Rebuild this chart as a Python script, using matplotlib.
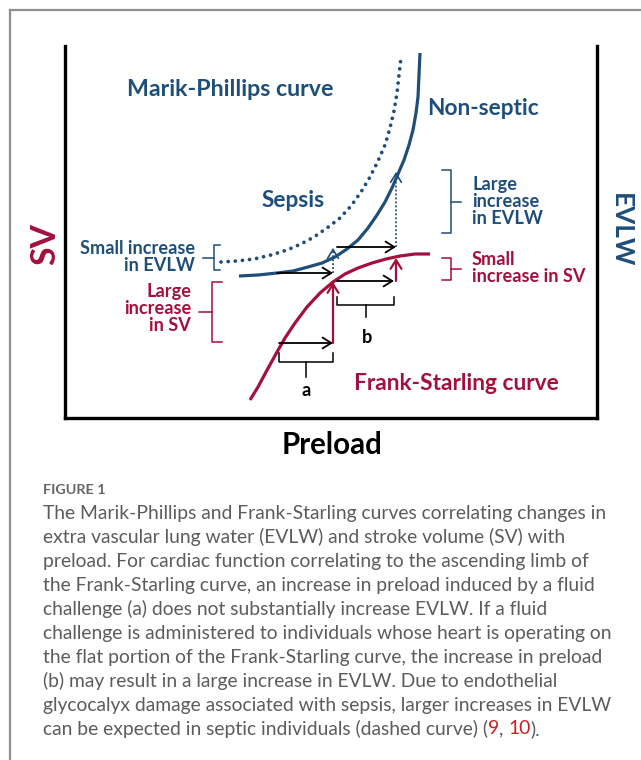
import matplotlib
matplotlib.use('Agg')
import matplotlib.pyplot as plt
from matplotlib.lines import Line2D

W, H = 641, 760
BLUE = '#1f4e79'
RED = '#a3103e'
CAP = '#5c5c5c'
FONT = 'Lato'

# ---- curve data (diagram units: x = preload, y = SV / EVLW) ----
nonseptic_x = [174, 193, 212, 228, 243, 257, 270, 282, 293, 303, 312, 320, 327, 333, 339, 344, 348, 351, 353, 354, 355]
nonseptic_y = [142, 143, 145, 147, 151, 155, 161, 169, 178, 190, 203, 216, 230, 244, 258, 273, 288, 305, 321, 343, 365]
sepsis_x = [156, 172, 189, 206, 222, 236, 249, 262, 275, 286, 296, 305, 313, 320, 325, 329, 332, 334, 336]
sepsis_y = [156, 157, 159, 163, 168, 174, 181, 190, 200, 212, 226, 241, 257, 273, 290, 307, 325, 343, 360]
starling_x = [185, 193, 201, 212, 220, 230, 242, 255, 268, 280, 293, 307, 321, 335, 350, 365]
starling_y = [18, 31, 46, 66, 80, 95, 111, 125, 136, 144, 150, 155, 159, 162, 164, 164]

# fluid challenges: horizontal (preload) arrows  (x_start, x_end, y)
preload_arrows = [(214, 268, 75), (212, 268, 145), (272, 331, 171), (272, 329, 137)]
# SV responses (x, y_start, y_end)
sv_arrows = [(268, 75, 136), (331, 137, 160)]
# EVLW responses (x, y_start, y_end)
evlw_arrows = [(268, 145, 170), (331, 171, 246)]

fig = plt.figure(figsize=(W / 100, H / 100), dpi=100)
fig.patch.set_facecolor('white')

# card border (top and left)
fig.add_artist(Line2D([10 / W, 1], [1 - 10 / H, 1 - 10 / H], color='#8f8f8f', lw=1.6))
fig.add_artist(Line2D([10 / W, 10 / W], [0, 1 - 10 / H], color='#8f8f8f', lw=1.6))

ax = fig.add_axes([65 / W, 1 - 418 / H, (597 - 65) / W, (418 - 46) / H])
ax.set_xlim(0, 532)
ax.set_ylim(0, 372)
ax.set_xticks([])
ax.set_yticks([])
ax.patch.set_alpha(0)
for s in ['left', 'bottom', 'right']:
    ax.spines[s].set_linewidth(2.4)
    ax.spines[s].set_color('black')
    ax.spines[s].set_capstyle('projecting')
ax.spines['top'].set_visible(False)

ax.plot(nonseptic_x, nonseptic_y, color=BLUE, lw=2.3, solid_capstyle='butt')
ax.plot(sepsis_x, sepsis_y, color=BLUE, lw=2.7, linestyle=(0, (0.01, 1.9)), dash_capstyle='round')
ax.plot(starling_x, starling_y, color=RED, lw=2.3, solid_capstyle='butt')

AST = '->,head_length=0.45,head_width=0.28'
for x0, x1, y in preload_arrows:
    ax.annotate('', xy=(x1, y), xytext=(x0, y),
                arrowprops=dict(arrowstyle=AST, color='black', lw=1.3, mutation_scale=14,
                                shrinkA=0, shrinkB=0))
for x, y0, y1 in sv_arrows:
    ax.annotate('', xy=(x, y1), xytext=(x, y0),
                arrowprops=dict(arrowstyle=AST, color=RED, lw=1.6, mutation_scale=14,
                                shrinkA=0, shrinkB=0))
for x, y0, y1 in evlw_arrows:
    ax.plot([x, x], [y0, y1 - 2], color=BLUE, lw=1.3, linestyle=(0, (1, 1.2)))
    ax.annotate('', xy=(x, y1), xytext=(x, y1 - 3),
                arrowprops=dict(arrowstyle=AST, color=BLUE, lw=1.2, mutation_scale=14,
                                shrinkA=0, shrinkB=0))

# brackets
def vbracket(x, y0, y1, end, tick, color):
    ym = (y0 + y1) / 2
    ax.plot([x + end, x, x, x + end], [y1, y1, y0, y0], color=color, lw=1.1,
            solid_joinstyle='round')
    ax.plot([x - tick, x], [ym, ym], color=color, lw=1.1)

def hbracket(x0, x1, ytop, ybot, tick, color):
    xm = (x0 + x1) / 2
    ax.plot([x0, x0, x1, x1], [ytop, ybot, ybot, ytop], color=color, lw=1.1)
    ax.plot([xm, xm], [ybot, ybot - tick], color=color, lw=1.1)

vbracket(149, 148, 173, 6, 11, BLUE)
vbracket(147, 76, 136, 10, 13, RED)
vbracket(386, 185, 248, -9, -10, BLUE)
vbracket(386, 138, 160, -9, -10, RED)
hbracket(214, 268, 65, 56, 15, 'black')
hbracket(272, 329, 121, 113, 12, 'black')

renderer = fig.canvas.get_renderer()

def fit(t, target, vertical=False):
    bb = t.get_window_extent(renderer)
    cur = bb.height if vertical else bb.width
    t.set_fontsize(t.get_fontsize() * target / cur)
    return t

def lab(x, y, s, color, size, target=None, **kw):
    t = ax.text(x, y, s, color=color, fontsize=size, fontfamily=FONT, fontweight='bold',
                clip_on=False, **kw)
    if target:
        fit(t, target)
    return t

lab(62, 329, 'Marik-Phillips curve', BLUE, 14, 208, ha='left', va='center')
lab(362, 310, 'Non-septic', BLUE, 14, 112, ha='left', va='center')
lab(197, 218, 'Sepsis', BLUE, 14, 63, ha='left', va='center')
lab(289, 35, 'Frank-Starling curve', RED, 14, 208, ha='left', va='center')
t1 = lab(130, 161, 'Small increase\nin EVLW', BLUE, 11.5, 115, ha='right', va='center',
         multialignment='right', linespacing=1.0)
small_fs = t1.get_fontsize()
lab(126, 110, 'Large\nincrease\nin SV', RED, small_fs, None, ha='right', va='center',
    multialignment='right', linespacing=1.0)
lab(407, 217, 'Large\nincrease\nin EVLW', BLUE, small_fs, None, ha='left', va='center',
    linespacing=1.0)
lab(407, 150, 'Small\nincrease in SV', RED, small_fs, None, ha='left', va='center',
    linespacing=1.0)
lab(241, 28, 'a', 'black', small_fs, None, ha='center', va='center')
lab(302, 81, 'b', 'black', small_fs, None, ha='center', va='center')
lab(267, -27, 'Preload', 'black', 19, 101, ha='center', va='center')
sv = ax.text(-20, 174, 'SV', color=RED, fontsize=20, fontfamily=FONT, fontweight='bold',
             rotation=90, ha='center', va='center', clip_on=False)
fit(sv, 42, vertical=True)
ev = ax.text(556, 188, 'EVLW', color=BLUE, fontsize=20, fontfamily=FONT, fontweight='bold',
             rotation=270, ha='center', va='center', clip_on=False)
fit(ev, 74, vertical=True)

# caption
fg = fig.text(43 / W, 1 - 490 / H, 'FIGURE 1', color='#666666', fontsize=9,
              fontfamily=FONT, fontweight='bold', ha='left', va='center')
fit(fg, 63)

caption_lines = [
    "The Marik-Phillips and Frank-Starling curves correlating changes in",
    "extra vascular lung water (EVLW) and stroke volume (SV) with",
    "preload. For cardiac function correlating to the ascending limb of",
    "the Frank-Starling curve, an increase in preload induced by a fluid",
    "challenge (a) does not substantially increase EVLW. If a fluid",
    "challenge is administered to individuals whose heart is operating on",
    "the flat portion of the Frank-Starling curve, the increase in preload",
    "(b) may result in a large increase in EVLW. Due to endothelial",
    "glycocalyx damage associated with sepsis, larger increases in EVLW",
]
last_parts = [("can be expected in septic individuals (dashed curve) (", CAP), ("9", '#cc1f1f'),
              (", ", CAP), ("10", '#cc1f1f'), (").", CAP)]

probe = fig.text(0, 0, caption_lines[5], fontsize=12.5, fontfamily=FONT, fontweight='normal')
fit(probe, 572)
cap_fs = probe.get_fontsize()
probe.remove()

y0 = 513
for i, line in enumerate(caption_lines):
    fig.text(43 / W, 1 - (y0 + 24 * i) / H, line, color=CAP, fontsize=cap_fs,
             fontfamily=FONT, fontweight='normal', ha='left', va='center')
xpix = 43
ylast = y0 + 24 * len(caption_lines)
for s, c in last_parts:
    t = fig.text(xpix / W, 1 - ylast / H, s, color=c, fontsize=cap_fs, fontfamily=FONT,
                 fontweight='normal', ha='left', va='center')
    xpix = t.get_window_extent(renderer).x1

fig.savefig('out.png', dpi=100, facecolor='white')
